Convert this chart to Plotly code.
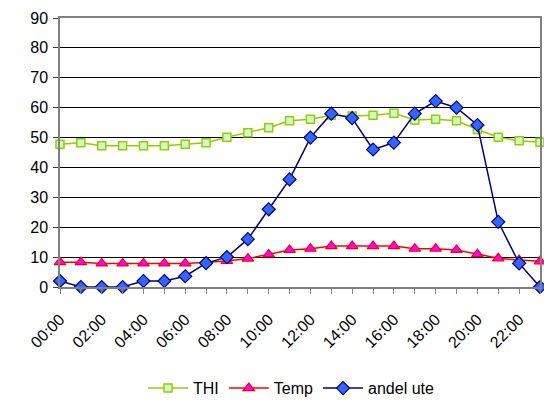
import plotly.graph_objects as go

hours = [f"{h:02d}:00" for h in range(24)]
thi = [47.8, 48.3, 47.3, 47.3, 47.3, 47.3, 47.8, 48.3, 50.1, 51.6, 53.3, 55.6,
       56.1, 57.5, 57.2, 57.5, 58.1, 55.9, 56.1, 55.6, 52.7, 50.1, 48.9, 48.4]
temp = [8.3, 8.3, 7.9, 7.9, 7.9, 7.9, 7.9, 8.3, 8.7, 9.5, 10.9, 12.4,
        12.8, 13.7, 13.7, 13.7, 13.7, 12.8, 12.8, 12.4, 11.0, 9.6, 9.0, 8.6]
andel_ute = [2, 0, 0, 0, 2, 2, 3.6, 8, 10, 16, 26, 36,
             50, 58, 56.5, 46, 48.3, 58, 62.2, 60, 54.2, 21.8, 7.9, 0]
y_ticks = list(range(0, 100, 10))

x = list(range(len(hours)))
ticktext = [h if i % 2 == 0 else "" for i, h in enumerate(hours)]

fig = go.Figure()
fig.add_trace(go.Scatter(x=x, y=thi, name="THI", mode="lines+markers",
                         line=dict(color="#99CC00", width=1.5),
                         marker=dict(symbol="square", size=8, color="#CCFFCC",
                                     line=dict(color="#99CC00", width=1.5)),
                         cliponaxis=False))
fig.add_trace(go.Scatter(x=x, y=temp, name="Temp", mode="lines+markers",
                         line=dict(color="#FF0000", width=1.5),
                         marker=dict(symbol="triangle-up", size=10, color="#FF00FF",
                                     line=dict(color="#FF0000", width=1.2)),
                         cliponaxis=False))
fig.add_trace(go.Scatter(x=x, y=andel_ute, name="andel ute", mode="lines+markers",
                         line=dict(color="#000080", width=1.5),
                         marker=dict(symbol="diamond", size=10, color="#3366FF",
                                     line=dict(color="#000080", width=1.2)),
                         cliponaxis=False))

fig.update_layout(
    width=544, height=401,
    margin=dict(l=60, r=4, t=18, b=114, autoexpand=False),
    paper_bgcolor="white", plot_bgcolor="white",
    font=dict(family="Liberation Sans, Arial", size=16, color="#000000"),
    legend=dict(orientation="h", x=0.535, xref="container", xanchor="center",
                y=0.032, yref="container", yanchor="middle",
                font=dict(size=16), itemwidth=40, traceorder="normal"),
    showlegend=True,
)
fig.update_xaxes(range=[0, 23], tickmode="array", tickvals=x, ticktext=ticktext,
                 tickangle=-45, showgrid=False, showline=True, linecolor="#808080",
                 linewidth=1.5, mirror=True, ticks="outside", ticklen=5,
                 tickcolor="#808080", zeroline=False, tickfont=dict(size=16),
                 ticklabelstandoff=10, automargin=False)
fig.update_yaxes(range=[0, 90], tickmode="array", tickvals=y_ticks,
                 showgrid=True, gridcolor="#000000", gridwidth=1,
                 showline=True, linecolor="#808080", linewidth=1.5, mirror=True,
                 ticks="outside", ticklen=5, tickcolor="#404040", zeroline=False,
                 tickfont=dict(size=16), ticklabelstandoff=2, automargin=False)

fig.write_html("out.html")
